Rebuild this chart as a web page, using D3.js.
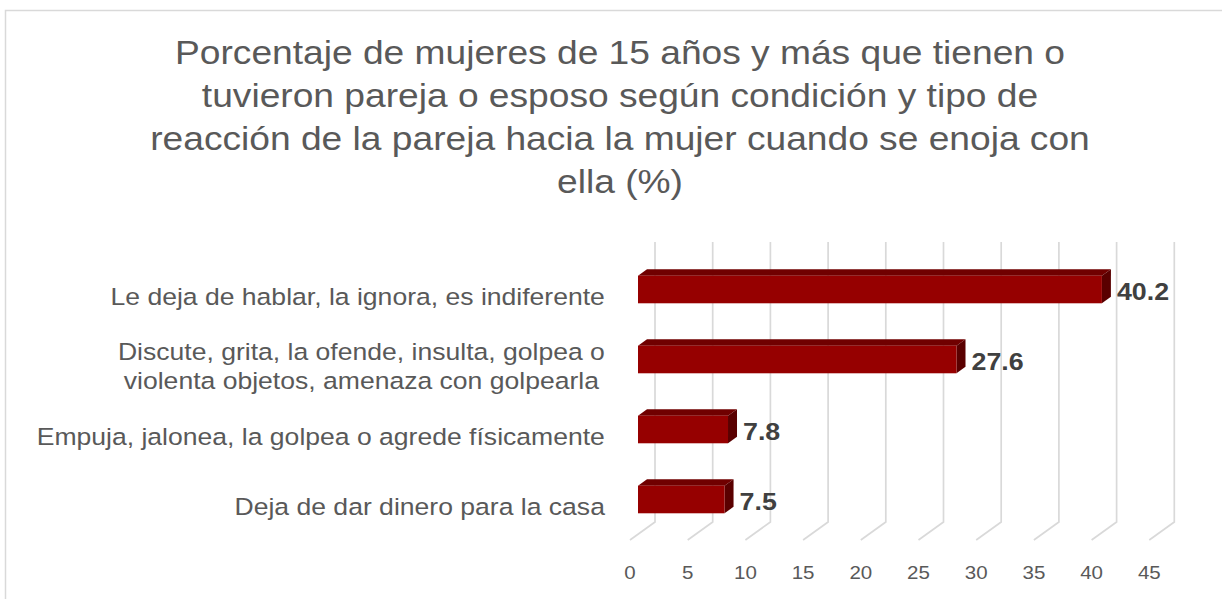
<!DOCTYPE html>
<html><head><meta charset="utf-8">
<script src="https://cdn.jsdelivr.net/npm/d3@7"></script>
<style>html,body{margin:0;padding:0;background:#fff;}svg{display:block;}</style>
</head><body>
<svg id="chart" width="1222" height="599"></svg>
<script>
const titleLines = [
  "Porcentaje de mujeres de 15 años y más que tienen o",
  "tuvieron pareja o esposo según condición y tipo de",
  "reacción de la pareja hacia la mujer cuando se enoja con",
  "ella (%)"
];
const categories = [
  "Le deja de hablar, la ignora, es indiferente",
  "Discute, grita, la ofende, insulta, golpea o violenta objetos, amenaza con golpearla",
  "Empuja, jalonea, la golpea o agrede físicamente",
  "Deja de dar dinero para la casa"
];
const categoryLines = [
  ["Le deja de hablar, la ignora, es indiferente"],
  ["Discute, grita, la ofende, insulta, golpea o", "violenta objetos, amenaza con golpearla"],
  ["Empuja, jalonea, la golpea o agrede físicamente"],
  ["Deja de dar dinero para la casa"]
];
const values = [40.2, 27.6, 7.8, 7.5];
const tickValues = [0, 5, 10, 15, 20, 25, 30, 35, 40, 45];

const svg = d3.select("#chart");
const SX = 1.14;
const grey = "#595959";
const font = "'Liberation Sans', Arial, sans-serif";

// border
svg.append("rect").attr("x", 5.5).attr("y", 10.5).attr("width", 1300).attr("height", 700)
  .attr("fill", "none").attr("stroke", "#d9d9d9").attr("stroke-width", 1.5);

// title
const tBase = [64.3, 107.3, 150.3, 193.3];
titleLines.forEach((t, i) => {
  svg.append("text").attr("transform", `translate(620,${tBase[i]}) scale(${SX},1)`)
    .attr("text-anchor", "middle").attr("font-family", font).attr("font-size", 32.6)
    .attr("fill", grey).text(t);
});

// scales (front plane)
const x = d3.scaleLinear().domain([0, 45]).range([630, 630 + 45 * 11.54]);
const y = d3.scaleBand().domain(categories).range([254.5, 534.5]).paddingInner(0.606).paddingOuter(0.303);
const DX = 25, DY = -18;      // depth vector (front -> back)
const d0 = 0.32, d1 = 0.68;   // bar depth span
const backTop = 242, backBottom = 522, frontBottom = 540;

// gridlines
const grid = svg.append("g").attr("stroke", "#d9d9d9").attr("stroke-width", 1.7).attr("fill", "none");
tickValues.forEach(v => {
  const xb = x(v) + DX, xf = x(v);
  grid.append("path").attr("d", `M${xb},${backTop}L${xb},${backBottom}L${xf},${frontBottom}`);
});

// tick labels
svg.append("g").selectAll("text").data(tickValues).join("text")
  .attr("transform", v => `translate(${x(v)},579) scale(1.08,1)`)
  .attr("text-anchor", "middle").attr("font-family", font).attr("font-size", 19)
  .attr("fill", grey).text(v => v);

// bars
const bars = svg.append("g");
categories.forEach((c, i) => {
  const v = values[i];
  const top = y(c), bh = y.bandwidth(), bot = top + bh;
  const fx0 = x(0) + d0 * DX, fx1 = x(v) + d0 * DX;
  const ox = (d1 - d0) * DX, oy = (d1 - d0) * DY;
  // top face
  bars.append("path").attr("fill", "#700000")
    .attr("d", `M${fx0},${top}L${fx0 + ox},${top + oy}L${fx1 + ox},${top + oy}L${fx1},${top}Z`);
  // side face
  bars.append("path").attr("fill", "#5a0000")
    .attr("d", `M${fx1},${top}L${fx1 + ox},${top + oy}L${fx1 + ox},${bot + oy}L${fx1},${bot}Z`);
  // front face
  bars.append("rect").attr("x", fx0).attr("y", top).attr("width", fx1 - fx0).attr("height", bh)
    .attr("fill", "#960000");
  // value label
  svg.append("text").attr("transform", `translate(${x(v) + 23},${top + bh / 2 + 10.7}) scale(${SX},1)`)
    .attr("font-family", font).attr("font-weight", "bold").attr("font-size", 23.5)
    .attr("fill", "#404040").text(d3.format(".1f")(v));
});

// category labels
categories.forEach((c, i) => {
  const lines = categoryLines[i];
  const center = y(c) + y.bandwidth() / 2 + 6.7;
  const lh = 29;
  const g = svg.append("g");
  const texts = lines.map((t, j) => g.append("text")
    .attr("font-family", font).attr("font-size", 23.3).attr("fill", grey)
    .attr("text-anchor", "middle").text(t));
  const widths = texts.map(t => t.node().getComputedTextLength() * SX);
  const maxW = d3.max(widths);
  const cx = 605 - maxW / 2;
  texts.forEach((t, j) => {
    const base = center + 8.3 + (j - (lines.length - 1) / 2) * lh;
    t.attr("transform", `translate(${cx},${base}) scale(${SX},1)`);
  });
});
</script>
</body></html>
